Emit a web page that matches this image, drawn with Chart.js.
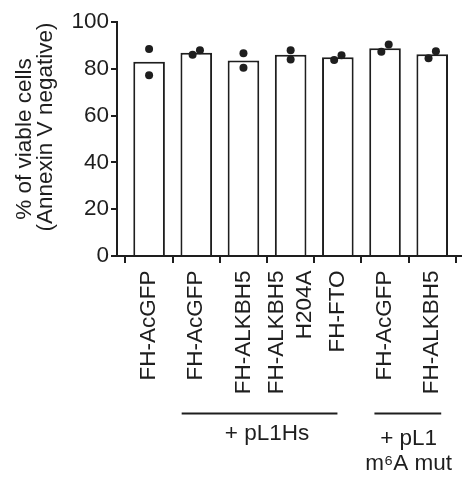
<!DOCTYPE html>
<html><head><meta charset="utf-8">
<script src="https://cdn.jsdelivr.net/npm/chart.js@4/dist/chart.umd.min.js"></script>
<style>html,body{margin:0;padding:0;background:#fff}#wrap{width:465px;height:480px}</style>
</head><body><div id="wrap"><canvas id="c" width="465" height="480"></canvas></div>
<script>
// ---- data ----
const categories = [['FH-AcGFP'], ['FH-AcGFP'], ['FH-ALKBH5'], ['FH-ALKBH5', 'H204A'], ['FH-FTO'], ['FH-AcGFP'], ['FH-ALKBH5']];
const barValues = [83.0, 86.9, 83.6, 86.0, 84.9, 88.8, 86.2];
const dotsA = [88.5, 86.0, 86.6, 87.9, 83.8, 87.3, 84.5];
const dotsB = [77.2, 87.9, 80.5, 84.0, 85.8, 90.4, 87.5];
const jitterA = [0, -0.078, 0, 0, -0.078, -0.078, -0.078];
const jitterB = [0, 0.078, 0, 0, 0.078, 0.078, 0.078];
const yTicks = [0, 20, 40, 60, 80, 100];
const yTitle = ['% of viable cells', '(Annexin V negative)'];
const groupLabels = [['+ pL1Hs'], ['+ pL1', 'm\u2076A mut']];
const groupFirst = [1, 5];
const groupLast = [4, 6];

// ---- style ----
const INK = '#1e1e1e';
const FAMILY = "'Liberation Sans', Arial, sans-serif";
const FS = 22.5;
Chart.defaults.font.family = FAMILY;
Chart.defaults.font.size = FS;
Chart.defaults.color = INK;

const annot = {
  id: 'annot',
  afterDraw(chart) {
    const ctx = chart.ctx, xs = chart.scales.x, ys = chart.scales.y;
    ctx.save();
    ctx.fillStyle = INK;
    ctx.strokeStyle = INK;
    ctx.font = FS + 'px ' + FAMILY;
    // rotated category labels
    categories.forEach((lines, i) => {
      const px = xs.getPixelForValue(i);
      lines.forEach((t, j) => {
        ctx.save();
        ctx.translate(px + (j - (lines.length - 1) / 2) * 27.5, 270.5);
        ctx.rotate(-Math.PI / 2);
        ctx.textAlign = 'right';
        ctx.textBaseline = 'middle';
        ctx.fillText(t, 0, 0);
        ctx.restore();
      });
    });
    // y axis title (two rotated lines)
    const mid = (ys.top + ys.bottom) / 2;
    const tX = [24.5, 46], tDY = [0, -12];
    yTitle.forEach((t, j) => {
      ctx.save();
      ctx.translate(tX[j], mid + tDY[j]);
      ctx.rotate(-Math.PI / 2);
      ctx.textAlign = 'center';
      ctx.textBaseline = 'middle';
      ctx.fillText(t, 0, 0);
      ctx.restore();
    });
    // group brackets
    const over = [[-14.6, -0.4], [-10.6, 9]];
    const textBase = [439.5, 444.5];
    groupLabels.forEach((lines, g) => {
      const a = xs.getPixelForValue(groupFirst[g]);
      const b = xs.getPixelForValue(groupLast[g]);
      ctx.lineWidth = 2;
      ctx.beginPath();
      ctx.moveTo(a + over[g][0], 413.5);
      ctx.lineTo(b + over[g][1], 413.5);
      ctx.stroke();
      ctx.textAlign = 'center';
      ctx.textBaseline = 'alphabetic';
      lines.forEach((t, j) => ctx.fillText(t, (a + b) / 2, textBase[g] + j * 25.5));
    });
    ctx.restore();
  }
};

new Chart(document.getElementById('c'), {
  type: 'bar',
  data: {
    datasets: [
      {
        type: 'bar',
        data: barValues.map((v, i) => ({x: i, y: v})),
        backgroundColor: '#ffffff',
        borderColor: INK,
        borderWidth: 2,
        borderSkipped: 'bottom',
        barPercentage: 0.67,
        categoryPercentage: 1,
        order: 2
      },
      {
        type: 'scatter',
        data: dotsA.map((v, i) => ({x: i + jitterA[i], y: v}))
          .concat(dotsB.map((v, i) => ({x: i + jitterB[i], y: v}))),
        pointRadius: 4,
        pointBackgroundColor: INK,
        pointBorderWidth: 0,
        order: 1
      }
    ]
  },
  options: {
    responsive: false,
    animation: false,
    devicePixelRatio: 1,
    layout: {padding: {top: 22, right: 1, left: 0, bottom: 0}},
    plugins: {legend: {display: false}, tooltip: {enabled: false}},
    scales: {
      x: {
        type: 'linear', min: -0.68, max: 6.61, offset: false,
        afterBuildTicks: s => { s.ticks = categories.map((_, i) => ({value: i})); },
        afterFit: s => { s.height = 224; },
        ticks: {display: false},
        grid: {drawOnChartArea: false, drawTicks: true, tickLength: 7, color: INK, lineWidth: 2},
        border: {display: true, color: INK, width: 2}
      },
      y: {
        min: 0, max: 100,
        afterBuildTicks: s => { s.ticks = yTicks.map(v => ({value: v})); },
        afterFit: s => { s.width = 117; },
        ticks: {color: INK, padding: 2, font: {size: FS}},
        grid: {drawOnChartArea: false, drawTicks: true, tickLength: 6, color: INK, lineWidth: 2},
        border: {display: true, color: INK, width: 2},
        title: {display: false}
      }
    }
  },
  plugins: [annot]
});
</script>
</body></html>
